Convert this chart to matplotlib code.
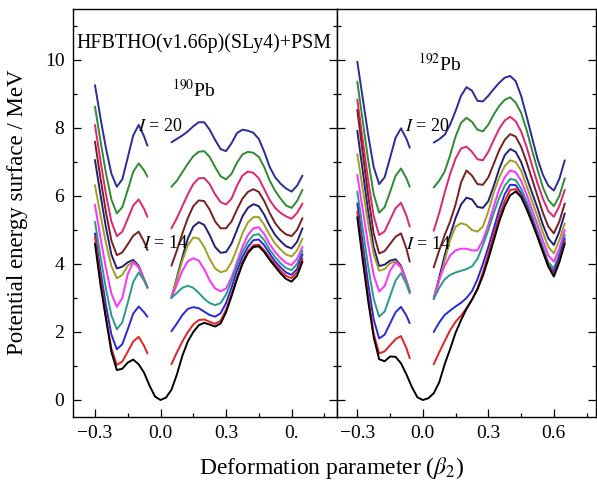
import matplotlib
matplotlib.use('Agg')
import matplotlib.pyplot as plt
from matplotlib.ticker import MultipleLocator

plt.rcParams['font.family'] = ['Liberation Serif', 'DejaVu Serif']
plt.rcParams['mathtext.fontset'] = 'stix'

# ---------------- data ----------------
SPINS = [0, 2, 4, 6, 8, 10, 12, 14, 16, 18, 20]
COLORS = ['#000000', '#e82020', '#2828e0', '#2a9a8a', '#ff30ff', '#a0a020',
          '#20207a', '#7a1f1f', '#e2246f', '#2e8b2e', '#2b2b9b']

BETA_L = [-0.300, -0.275, -0.250, -0.225, -0.200, -0.175, -0.150, -0.125, -0.100, -0.075, -0.060]
BETA_R = [0.050, 0.075, 0.100, 0.125, 0.150, 0.175, 0.200, 0.225, 0.250, 0.275, 0.300, 0.325,
          0.350, 0.375, 0.400, 0.425, 0.450, 0.475, 0.500, 0.525, 0.550, 0.575, 0.600, 0.625, 0.650]
BETA_FULL = [-0.300, -0.275, -0.250, -0.225, -0.200, -0.175, -0.150, -0.125, -0.100, -0.075,
             -0.050, -0.025, 0.000, 0.025] + BETA_R

# 190Pb, I = 0 (continuous)
PB190_I0 = [4.60, 3.40, 2.40, 1.42, 0.88, 0.92, 1.10, 1.19, 1.05, 0.80, 0.42, 0.10, 0.00, 0.07,
            0.30, 0.75, 1.30, 1.72, 2.00, 2.20, 2.27, 2.22, 2.16, 2.25, 2.58, 3.05, 3.55, 4.00,
            4.32, 4.50, 4.52, 4.35, 4.12, 3.92, 3.72, 3.56, 3.48, 3.65, 4.07]
# 190Pb, I = 2 ... 20, oblate side
PB190_LEFT = [
    [4.80, 3.59, 2.46, 1.52, 1.03, 1.13, 1.42, 1.72, 1.86, 1.59, 1.37],
    [4.90, 3.81, 2.79, 1.93, 1.49, 1.64, 2.08, 2.54, 2.75, 2.58, 2.45],
    [5.24, 4.23, 3.28, 2.49, 2.08, 2.28, 2.86, 3.47, 3.75, 3.52, 3.33],
    [5.74, 4.78, 3.88, 3.13, 2.74, 3.00, 3.70, 4.05, 3.90, 3.52, 3.30],
    [6.32, 5.44, 4.62, 3.94, 3.58, 3.68, 3.95, 4.07, 3.92, 3.55, 3.32],
    [7.06, 6.04, 5.08, 4.28, 3.87, 3.92, 4.05, 4.12, 3.95, 3.55, 3.30],
    [7.60, 6.53, 5.53, 4.69, 4.26, 4.34, 4.58, 4.83, 4.95, 4.65, 4.41],
    [8.09, 7.04, 6.06, 5.25, 4.82, 4.95, 5.33, 5.72, 5.90, 5.62, 5.39],
    [8.63, 7.63, 6.68, 5.90, 5.49, 5.67, 6.18, 6.71, 6.96, 6.75, 6.57],
    [9.26, 8.30, 7.41, 6.66, 6.27, 6.49, 7.13, 7.78, 8.09, 7.75, 7.48],
]
# 190Pb, I = 2 ... 20, prolate side
PB190_RIGHT = [
    [1.05, 1.40, 1.72, 2.00, 2.22, 2.35, 2.37, 2.30, 2.24, 2.33, 2.65, 3.10, 3.60, 4.05, 4.37, 4.55, 4.57, 4.40, 4.18, 3.98, 3.80, 3.65, 3.58, 3.75, 4.15],
    [2.02, 2.25, 2.50, 2.68, 2.73, 2.70, 2.60, 2.50, 2.45, 2.55, 2.85, 3.30, 3.80, 4.20, 4.50, 4.70, 4.72, 4.55, 4.30, 4.07, 3.90, 3.75, 3.68, 3.85, 4.28],
    [3.00, 3.15, 3.30, 3.36, 3.30, 3.15, 2.98, 2.85, 2.79, 2.85, 3.10, 3.50, 3.95, 4.35, 4.65, 4.85, 4.88, 4.70, 4.42, 4.20, 4.02, 3.88, 3.82, 4.00, 4.38],
    [3.00, 3.40, 3.80, 4.08, 4.17, 4.10, 3.85, 3.52, 3.28, 3.20, 3.28, 3.60, 4.05, 4.50, 4.85, 5.05, 5.08, 4.88, 4.58, 4.35, 4.17, 4.03, 3.97, 4.15, 4.50],
    [3.05, 3.55, 4.10, 4.55, 4.78, 4.75, 4.50, 4.15, 3.87, 3.76, 3.80, 4.05, 4.45, 4.90, 5.22, 5.38, 5.38, 5.15, 4.85, 4.60, 4.42, 4.28, 4.22, 4.40, 4.75],
    [3.00, 3.60, 4.20, 4.75, 5.10, 5.23, 5.15, 4.85, 4.50, 4.33, 4.35, 4.60, 5.00, 5.40, 5.65, 5.76, 5.70, 5.45, 5.12, 4.85, 4.67, 4.52, 4.46, 4.65, 5.05],
    [3.95, 4.40, 4.90, 5.35, 5.70, 5.87, 5.85, 5.60, 5.25, 5.05, 5.05, 5.25, 5.60, 5.92, 6.12, 6.20, 6.12, 5.85, 5.50, 5.20, 5.00, 4.87, 4.82, 5.00, 5.35],
    [5.05, 5.35, 5.70, 6.05, 6.35, 6.52, 6.53, 6.35, 6.05, 5.82, 5.75, 5.92, 6.30, 6.60, 6.72, 6.68, 6.52, 6.20, 5.88, 5.65, 5.50, 5.40, 5.33, 5.50, 5.78],
    [6.27, 6.45, 6.70, 6.95, 7.17, 7.30, 7.32, 7.15, 6.85, 6.58, 6.49, 6.65, 6.98, 7.22, 7.30, 7.27, 7.15, 6.85, 6.45, 6.15, 5.92, 5.72, 5.65, 5.85, 6.18],
    [7.58, 7.68, 7.78, 7.90, 8.05, 8.17, 8.17, 7.95, 7.65, 7.38, 7.32, 7.55, 7.85, 7.95, 7.92, 7.86, 7.68, 7.30, 6.85, 6.55, 6.36, 6.22, 6.13, 6.30, 6.60],
]

# 192Pb, I = 0 (continuous)
PB192_I0 = [5.38, 4.10, 2.90, 1.85, 1.20, 1.14, 1.28, 1.27, 1.08, 0.75, 0.38, 0.08, 0.00, 0.05,
            0.20, 0.52, 1.05, 1.50, 1.98, 2.35, 2.68, 2.95, 3.25, 3.65, 4.15, 4.70, 5.25, 5.70,
            6.02, 6.13, 5.97, 5.62, 5.22, 4.80, 4.35, 3.92, 3.63, 4.05, 4.60]
PB192_LEFT = [
    [5.54, 4.29, 3.04, 1.95, 1.37, 1.43, 1.61, 1.79, 1.88, 1.52, 1.23],
    [5.78, 4.59, 3.40, 2.37, 1.81, 1.92, 2.25, 2.58, 2.74, 2.48, 2.26],
    [6.13, 5.03, 3.92, 2.97, 2.45, 2.60, 3.05, 3.51, 3.73, 3.41, 3.14],
    [6.62, 5.59, 4.56, 3.67, 3.19, 3.35, 3.80, 4.05, 3.90, 3.46, 3.16],
    [7.23, 6.20, 5.17, 4.28, 3.80, 3.85, 4.02, 4.08, 3.92, 3.48, 3.18],
    [7.92, 6.73, 5.53, 4.50, 3.94, 3.98, 4.10, 4.14, 3.95, 3.50, 3.20],
    [8.53, 7.26, 6.00, 4.90, 4.31, 4.38, 4.59, 4.80, 4.90, 4.45, 4.07],
    [8.84, 7.64, 6.45, 5.41, 4.85, 4.96, 5.30, 5.64, 5.80, 5.42, 5.10],
    [9.36, 8.20, 7.05, 6.05, 5.51, 5.67, 6.12, 6.59, 6.81, 6.52, 6.27],
    [9.95, 8.87, 7.79, 6.85, 6.35, 6.55, 7.12, 7.71, 7.99, 7.68, 7.42],
]
PB192_RIGHT = [
    [1.05, 1.40, 1.73, 2.05, 2.30, 2.48, 2.70, 2.95, 3.28, 3.75, 4.30, 4.85, 5.40, 5.85, 6.18, 6.20, 6.00, 5.65, 5.25, 4.82, 4.38, 3.95, 3.68, 4.10, 4.66],
    [2.00, 2.28, 2.50, 2.63, 2.75, 2.86, 3.00, 3.20, 3.55, 4.00, 4.50, 5.05, 5.60, 6.05, 6.33, 6.32, 6.08, 5.72, 5.30, 4.85, 4.40, 3.97, 3.77, 4.20, 4.75],
    [2.97, 3.30, 3.55, 3.68, 3.75, 3.80, 3.85, 3.93, 4.15, 4.55, 5.00, 5.50, 5.95, 6.30, 6.50, 6.47, 6.22, 5.85, 5.42, 4.95, 4.50, 4.05, 3.87, 4.30, 4.85],
    [3.00, 3.55, 3.95, 4.25, 4.40, 4.45, 4.45, 4.40, 4.40, 4.70, 5.15, 5.70, 6.20, 6.55, 6.75, 6.70, 6.45, 6.05, 5.60, 5.15, 4.68, 4.25, 4.07, 4.45, 5.00],
    [3.00, 3.50, 4.10, 4.70, 5.10, 5.20, 5.15, 5.00, 4.95, 5.10, 5.55, 6.10, 6.55, 6.88, 7.05, 7.00, 6.75, 6.30, 5.85, 5.40, 4.92, 4.50, 4.31, 4.70, 5.20],
    [2.97, 3.60, 4.25, 4.85, 5.35, 5.75, 5.95, 5.90, 5.68, 5.65, 5.85, 6.30, 6.80, 7.20, 7.38, 7.30, 7.00, 6.55, 6.10, 5.65, 5.15, 4.75, 4.56, 4.95, 5.49],
    [3.90, 4.40, 4.85, 5.25, 5.75, 6.40, 6.75, 6.60, 6.35, 6.33, 6.55, 6.95, 7.35, 7.65, 7.82, 7.75, 7.45, 7.00, 6.50, 6.00, 5.50, 5.10, 4.90, 5.25, 5.78],
    [4.98, 5.50, 6.10, 6.65, 7.10, 7.40, 7.45, 7.30, 7.08, 7.05, 7.30, 7.65, 7.98, 8.22, 8.33, 8.20, 7.90, 7.45, 6.90, 6.38, 5.92, 5.55, 5.39, 5.70, 6.18],
    [6.25, 6.45, 6.72, 7.20, 7.75, 8.15, 8.30, 8.18, 7.95, 7.90, 8.10, 8.40, 8.65, 8.83, 8.90, 8.75, 8.45, 7.95, 7.35, 6.78, 6.25, 5.88, 5.70, 6.00, 6.52],
    [7.57, 7.67, 7.80, 8.10, 8.50, 8.95, 9.20, 9.10, 8.80, 8.78, 8.95, 9.15, 9.33, 9.48, 9.53, 9.38, 8.95, 8.35, 7.72, 7.10, 6.62, 6.30, 6.16, 6.50, 7.05],
]

XTICKS = [-0.3, 0.0, 0.3, 0.6]
XTICKLABELS_190 = ['\u22120.3', '0.0', '0.3', '0.']
XTICKLABELS_192 = ['\u22120.3', '0.0', '0.3', '0.6']

# ---------------- figure ----------------
W, H = 597, 488
fig = plt.figure(figsize=(W / 100, H / 100), dpi=100)


def px_axes(x0, x1, y0, y1):
    return [x0 / W, 1 - y1 / H, (x1 - x0) / W, (y1 - y0) / H]


ax1 = fig.add_axes(px_axes(72.7, 337, 9, 417))
ax2 = fig.add_axes(px_axes(337, 596, 9, 417))

LW = 1.4
for ax, i0, left, right in ((ax1, PB190_I0, PB190_LEFT, PB190_RIGHT),
                            (ax2, PB192_I0, PB192_LEFT, PB192_RIGHT)):
    for k in range(len(left) - 1, -1, -1):
        ax.plot(BETA_L, left[k], color=COLORS[k + 1], lw=LW,
                solid_capstyle='round', solid_joinstyle='round')
        ax.plot(BETA_R, right[k], color=COLORS[k + 1], lw=LW,
                solid_capstyle='round', solid_joinstyle='round')
    ax.plot(BETA_FULL, i0, color=COLORS[0], lw=LW,
            solid_capstyle='round', solid_joinstyle='round')

ax1.set_xlim(-0.402, 0.808)
ax2.set_xlim(-0.393, 0.793)
for ax in (ax1, ax2):
    ax.set_ylim(-0.5, 11.5)
    ax.set_xticks(XTICKS)
    ax.xaxis.set_minor_locator(MultipleLocator(0.15))
    ax.yaxis.set_major_locator(MultipleLocator(2))
    ax.yaxis.set_minor_locator(MultipleLocator(1))
    ax.tick_params(which='both', direction='in', left=True, right=True, top=False,
                   bottom=True, width=0.9, labelsize=14)
    ax.tick_params(which='major', length=6)
    ax.tick_params(which='minor', length=3)
    ax.tick_params(axis='x', pad=6)
    ax.tick_params(axis='y', pad=6)
    for s in ax.spines.values():
        s.set_linewidth(1.0)
ax1.set_xticklabels(XTICKLABELS_190)
ax2.set_xticklabels(XTICKLABELS_192)
ax2.tick_params(labelleft=False)

# annotations
ax1.text(-0.385, 10.5, 'HFBTHO(v1.66p)(SLy4)+PSM', fontsize=14.4, ha='left', va='center')
ax1.text(0.153, 9.12, r'$^{190}$Pb', fontsize=14, ha='center', va='center')
ax1.text(-0.105, 8.03, r'$I$ = 20', fontsize=13, ha='left', va='center')
ax1.text(-0.08, 4.59, r'$I$ = 14', fontsize=13, ha='left', va='center')
ax2.text(0.079, 9.9, r'$^{192}$Pb', fontsize=14, ha='center', va='center')
ax2.text(-0.082, 8.04, r'$I$ = 20', fontsize=13, ha='left', va='center')
ax2.text(-0.078, 4.56, r'$I$ = 14', fontsize=13, ha='left', va='center')

fig.text(18 / W, 1 - 212 / H, 'Potential energy surface / MeV', rotation=90,
         ha='center', va='center', fontsize=16.5)
fig.text(332 / W, 1 - 468 / H, r'Deformation parameter ($\beta_2$)',
         ha='center', va='center', fontsize=17)

fig.savefig('out.png', dpi=100)
